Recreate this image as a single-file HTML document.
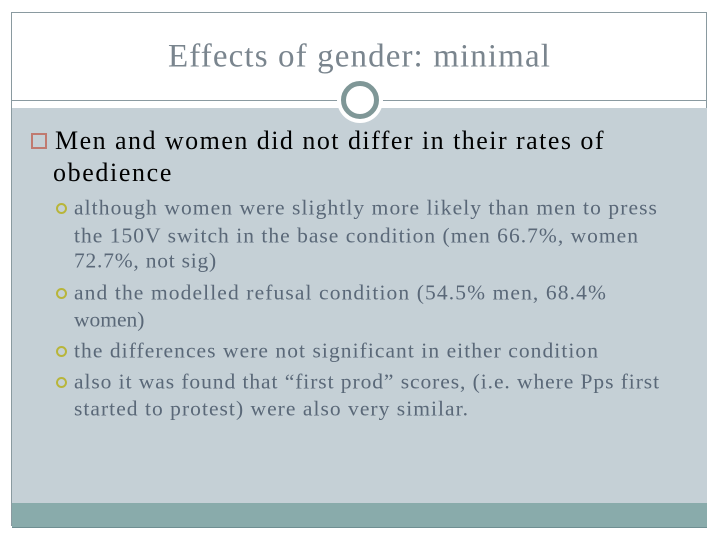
<!DOCTYPE html>
<html><head><meta charset="utf-8"><style>
body{margin:0;width:720px;height:540px;background:#fff;position:relative;overflow:hidden;font-family:"Liberation Serif",serif}
#frame{position:absolute;left:11px;top:12px;width:696px;height:514px;border:1px solid #8a9aa0;box-sizing:border-box}
#panel{position:absolute;left:12px;top:108px;width:695px;height:395px;background:#c5d0d6}
#band{position:absolute;left:12px;top:503px;width:695px;height:24px;background:#89abab;border-bottom:1px solid #6f8f92}
#rule{position:absolute;left:12px;top:100px;width:695px;height:1px;background:#8a9aa0}
#halo{position:absolute;left:337px;top:77px;width:46px;height:46px;border-radius:50%;background:#fff}
#ring{position:absolute;left:341px;top:81px;width:38px;height:38px;border-radius:50%;border:5px solid #7f9797;background:#fff;box-sizing:border-box}
.ln{position:absolute;white-space:nowrap;line-height:1;transform:translateY(-50%)}
.t{font-size:33px;color:#7a858e}
.m{font-size:26px;color:#000}
.s{font-size:21.5px;color:#5a6878}
.box{position:absolute;left:31px;top:133px;width:16px;height:16px;border:2px solid #c07a70;box-sizing:border-box}
.dot{position:absolute;left:56px;width:11px;height:11px;border:2.5px solid #b8b53a;border-radius:50%;box-sizing:border-box}
</style></head><body>
<div id="frame"></div>
<div id="panel"></div>
<div id="band"></div>
<div id="rule"></div>
<div id="halo"></div>
<div id="ring"></div>
<div class="ln t" style="left:168px;top:57px" data-w="383">Effects of gender: minimal</div>
<div class="box"></div>
<div class="ln m" style="left:55px;top:141px" data-w="550">Men and women did not differ in their rates of</div>
<div class="ln m" style="left:53px;top:173px" data-w="120">obedience</div>
<div class="dot" style="top:203px"></div>
<div class="ln s" style="left:74px;top:208px" data-w="584">although women were slightly more likely than men to press</div>
<div class="ln s" style="left:74px;top:236px" data-w="565">the 150V switch in the base condition (men 66.7%, women</div>
<div class="ln s" style="left:74px;top:261px" data-w="143">72.7%, not sig)</div>
<div class="dot" style="top:288px"></div>
<div class="ln s" style="left:74px;top:293px" data-w="533">and the modelled refusal condition (54.5% men, 68.4%</div>
<div class="ln s" style="left:74px;top:320px" data-w="64">women)</div>
<div class="dot" style="top:346px"></div>
<div class="ln s" style="left:74px;top:351px" data-w="525">the differences were not significant in either condition</div>
<div class="dot" style="top:377px"></div>
<div class="ln s" style="left:74px;top:382px" data-w="586">also it was found that “first prod” scores, (i.e. where Pps first</div>
<div class="ln s" style="left:74px;top:409px" data-w="395">started to protest) were also very similar.</div>
<script>
document.querySelectorAll('.ln').forEach(function(el){
  var w=+el.getAttribute('data-w');
  var cur=el.getBoundingClientRect().width;
  var n=el.textContent.length;
  if(n>1) el.style.letterSpacing=Math.max(0,(w-cur)/n)+'px';
});
</script>
</body></html>
